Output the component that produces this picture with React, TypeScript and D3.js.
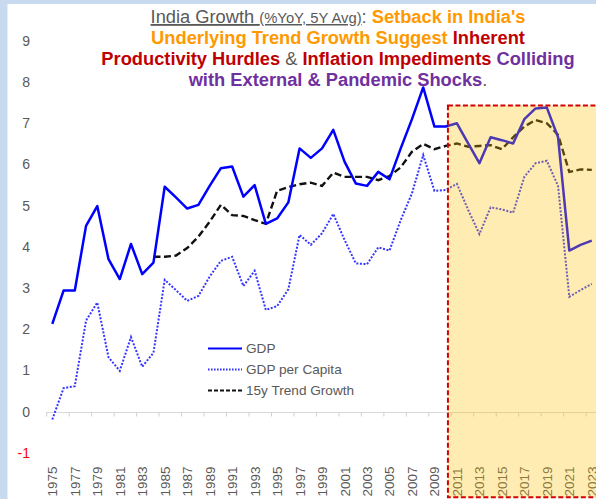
import React from "react";
import * as d3 from "d3";

const years = [1975,1976,1977,1978,1979,1980,1981,1982,1983,1984,1985,1986,1987,1988,1989,1990,1991,1992,1993,1994,1995,1996,1997,1998,1999,2000,2001,2002,2003,2004,2005,2006,2007,2008,2009,2010,2011,2012,2013,2014,2015,2016,2017,2018,2019,2020,2021,2022,2023];

const gdp = [2.15,2.96,2.96,4.53,5.01,3.72,3.24,4.09,3.36,3.64,5.48,5.22,4.95,5.04,5.50,5.93,5.97,5.24,5.52,4.58,4.71,5.10,6.41,6.18,6.41,6.86,6.09,5.56,5.50,5.84,5.66,6.41,7.12,7.89,6.94,6.94,7.02,6.53,6.05,6.68,6.61,6.53,7.12,7.38,7.40,6.68,3.93,4.07,4.17];

const gdpPerCapita = [-0.17,0.59,0.64,2.23,2.67,1.34,1.01,1.83,1.11,1.45,3.22,2.97,2.71,2.83,3.30,3.68,3.78,3.07,3.44,2.49,2.58,2.99,4.31,4.07,4.35,4.82,4.19,3.62,3.60,4.01,3.93,4.67,5.32,6.25,5.38,5.40,5.55,4.92,4.33,4.98,4.93,4.85,5.72,6.05,6.11,5.50,2.81,2.97,3.12];

const trend15y: (number | null)[] = [null,null,null,null,null,null,null,null,null,3.78,3.78,3.81,3.99,4.27,4.63,5.04,4.79,4.77,4.67,4.58,5.38,5.47,5.54,5.58,5.50,5.82,5.72,5.72,5.72,5.64,5.74,5.95,6.33,6.52,6.39,6.47,6.53,6.45,6.47,6.49,6.39,6.68,6.94,7.10,7.02,6.74,5.84,5.90,5.89];

const yTicks = [-1,0,1,2,3,4,5,6,7,8,9];
const xLabelYears = years.filter((y) => (y - 1975) % 2 === 0);

const highlightStartYear = 2010.2;
const highlightTopValue = 7.45;

const seriesNames = ["GDP", "GDP per Capita", "15y Trend Growth"];

const W = 596;
const H = 499;

export default function App() {
  const x = d3.scaleBand<number>().domain(years).range([46.7, 597.4]).padding(0);
  const bw = x.bandwidth();
  const cx = (yr: number) => (x(yr) as number) + bw / 2;
  const xLin = d3.scaleLinear().domain([1975, 2023]).range([cx(1975), cx(2023)]);
  const y = d3.scaleLinear().domain([-1, 9]).range([453.7, 41.7]);

  const lineGen = d3
    .line<number | null>()
    .defined((d) => d !== null)
    .x((_, i) => cx(years[i]))
    .y((d) => y(d as number));

  const grey = "#595959";
  const y0 = y(0);

  const boxX = xLin(highlightStartYear);
  const boxY = y(highlightTopValue);

  const titleFont = "Arial, 'Liberation Sans', Helvetica, sans-serif";

  return (
    <svg
      width={W}
      height={H}
      style={{ position: "absolute", left: 0, top: 0, fontFamily: titleFont }}
    >
      <rect x={0} y={0} width={W} height={H} fill="#c9daf0" />
      <rect x={7.5} y={4} width={W} height={H} fill="#ffffff" />

      {/* y labels */}
      {yTicks.map((t) => (
        <text
          key={t}
          x={30}
          y={y(t) - 1}
          textAnchor="end"
          dominantBaseline="central"
          fontSize={14}
          fill={t < 0 ? "#ff0000" : grey}
        >
          {t}
        </text>
      ))}

      {/* x axis line at zero */}
      <line x1={46} x2={W} y1={y0} y2={y0} stroke="#d9d9d9" strokeWidth={1.2} />
      {xLabelYears.map((yr) => (
        <line
          key={"t" + yr}
          x1={(x(yr) as number)}
          x2={(x(yr) as number)}
          y1={y0}
          y2={y0 + 4}
          stroke="#d0d0d0"
          strokeWidth={1}
        />
      ))}

      {/* lines */}
      <path
        d={lineGen(gdpPerCapita) || ""}
        fill="none"
        stroke="#3535ff"
        strokeWidth={2}
        strokeDasharray="2 1.6"
      />
      <path
        d={lineGen(trend15y) || ""}
        fill="none"
        stroke="#111111"
        strokeWidth={2.4}
        strokeDasharray="7 3.5"
      />
      <path
        d={lineGen(gdp) || ""}
        fill="none"
        stroke="#0000ff"
        strokeWidth={2.5}
        strokeLinejoin="round"
      />

      {/* x labels */}
      {xLabelYears.map((yr) => (
        <text
          key={"l" + yr}
          transform={`translate(${cx(yr) + 0.5},${496.5}) rotate(-90)`}
          textAnchor="start"
          dominantBaseline="central"
          fontSize={13.5}
          fill={grey}
        >
          {yr}
        </text>
      ))}

      {/* legend */}
      {seriesNames.map((name, i) => {
        const ly = 348.5 + i * 21;
        const stroke = i === 2 ? "#111111" : i === 1 ? "#3535ff" : "#0000ff";
        const dash = i === 0 ? undefined : i === 1 ? "1.6 1.4" : "4 2";
        return (
          <g key={name}>
            <line
              x1={208}
              x2={242}
              y1={ly}
              y2={ly}
              stroke={stroke}
              strokeWidth={i === 0 ? 2.2 : 2}
              strokeDasharray={dash}
            />
            <text x={246} y={ly} dominantBaseline="central" fontSize={13.6} fill={grey}>
              {name}
            </text>
          </g>
        );
      })}

      {/* highlight box */}
      <rect
        x={boxX}
        y={boxY}
        width={W - boxX + 10}
        height={497.3 - boxY}
        fill="#ffc000"
        fillOpacity={0.3}
        stroke="#d40000"
        strokeWidth={2}
        strokeDasharray="5 2.5"
      />

      {/* title */}
      <g fontSize={18.3} textAnchor="middle">
        <text x={338} y={23}>
          <tspan fill={grey} textDecoration="underline">India Growth </tspan>
          <tspan fill={grey} fontSize={14.8} textDecoration="underline">(%YoY, 5Y Avg)</tspan>
          <tspan fill={grey}>: </tspan>
          <tspan fill="#ff9900" fontWeight="bold">Setback in India's</tspan>
        </text>
        <text x={338} y={44}>
          <tspan fill="#ff9900" fontWeight="bold">Underlying Trend Growth Suggest </tspan>
          <tspan fill="#c00000" fontWeight="bold">Inherent</tspan>
        </text>
        <text x={338} y={65}>
          <tspan fill="#c00000" fontWeight="bold">Productivity Hurdles</tspan>
          <tspan fill={grey}> &amp; </tspan>
          <tspan fill="#c00000" fontWeight="bold">Inflation Impediments </tspan>
          <tspan fill="#7030a0" fontWeight="bold">Colliding</tspan>
        </text>
        <text x={338} y={86}>
          <tspan fill="#7030a0" fontWeight="bold">with External &amp; Pandemic Shocks</tspan>
          <tspan fill={grey}>.</tspan>
        </text>
      </g>
    </svg>
  );
}
